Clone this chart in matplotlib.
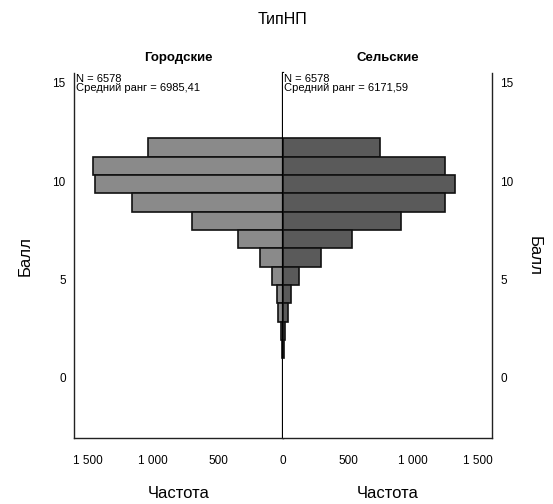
import numpy as np
import matplotlib
matplotlib.use("Agg")
import matplotlib.pyplot as plt

plt.rcParams['font.family'] = ['Liberation Sans', 'DejaVu Sans']

# центры интервалов по оси "Балл"
bins = [11.71, 10.78, 9.85, 8.92, 7.99, 7.05, 6.12, 5.19, 4.26, 3.33, 2.40, 1.46]
urban = [1040, 1460, 1450, 1160, 700, 350, 175, 85, 50, 40, 15, 5]
rural = [750, 1245, 1320, 1250, 910, 530, 295, 120, 65, 40, 15, 5]
groups = ['Городские', 'Сельские']
n_text = ['N = 6578\nСредний ранг = 6985,41', 'N = 6578\nСредний ранг = 6171,59']
xticks = [0, 500, 1000, 1500]
xticklabels = ['0', '500', '1 000', '1 500']
yticks = [0, 5, 10, 15]

W, H = 553, 504
fig = plt.figure(figsize=(W / 100, H / 100), dpi=100)
ax1 = fig.add_axes([74 / W, 1 - 438 / H, 209 / W, 365 / H])
ax2 = fig.add_axes([283 / W, 1 - 438 / H, 209 / W, 365 / H])

ax1.barh(bins, urban, height=0.93, color='#8a8a8a', edgecolor='#111111', linewidth=1.2)
ax2.barh(bins, rural, height=0.93, color='#5a5a5a', edgecolor='#111111', linewidth=1.2)

for ax in (ax1, ax2):
    ax.set_ylim(-3.05, 15.5)
    ax.set_yticks(yticks)
    ax.set_xticks(xticks)
    ax.tick_params(length=0, labelsize=8.5)
    ax.spines['top'].set_visible(False)
    for s in ax.spines.values():
        s.set_linewidth(1)
        s.set_color('#222222')

ax1.set_xlim(1608, 0)
ax2.set_xlim(0, 1608)
ax1.set_xticklabels(xticklabels)
ax2.set_xticklabels([''] + xticklabels[1:])
ax1.tick_params(axis='y', pad=6)
ax1.spines['right'].set_linewidth(1.6)
ax1.spines['right'].set_color('black')
ax2.spines['left'].set_visible(False)
ax2.yaxis.tick_right()
ax2.tick_params(axis='y', pad=6)
ax1.tick_params(axis='x', pad=12)
ax2.tick_params(axis='x', pad=12)

ax1.set_ylabel('Балл', fontsize=12, labelpad=14)
ax2.yaxis.set_label_position('right')
ax2.set_ylabel('Балл', fontsize=12, rotation=270, labelpad=20)
ax1.set_xlabel('Частота', fontsize=12, labelpad=14)
ax2.set_xlabel('Частота', fontsize=12, labelpad=14)

for ax, g, t in zip((ax1, ax2), groups, n_text):
    ax.text(0.5, 1.04, g, transform=ax.transAxes, ha='center', va='center',
            fontsize=9.5, fontweight='bold')
    ax.text(0.01, 0.998, t, transform=ax.transAxes, ha='left', va='top',
            fontsize=8, linespacing=0.95)
ax2.texts[-1].set_x(0.005)

fig.text(282 / W, 1 - 20 / H, 'ТипНП', ha='center', va='center', fontsize=11.5)

fig.savefig('out.png', dpi=100)
